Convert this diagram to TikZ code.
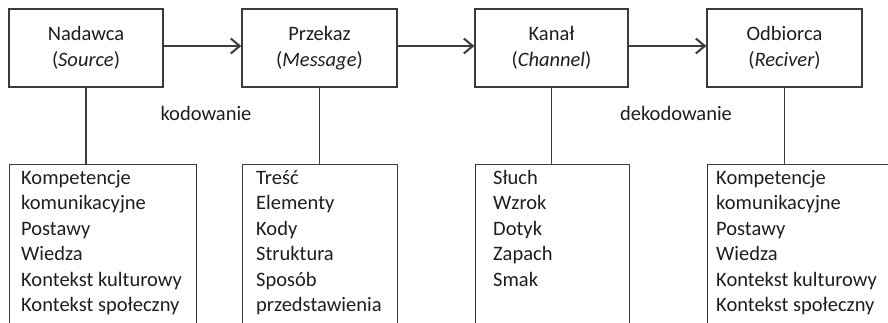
\documentclass[tikz,border=0pt]{standalone}
\usepackage{fontspec}
\setmainfont{Carlito}
\usetikzlibrary{arrows.meta,calc}
\definecolor{linegrey}{HTML}{3C3C3C}
\definecolor{inkgrey}{HTML}{1E1E1E}
\tikzset{
  stage/.style={draw=linegrey, line width=1.3pt, rectangle, minimum height=78pt,
    inner sep=0pt, align=center, text=inkgrey,
    font=\fontsize{20.5}{26}\selectfont},
  listbox/.style={draw=linegrey, line width=1.3pt, rectangle, minimum height=176pt,
    anchor=north west, inner sep=0pt},
  listtext/.style={anchor=north west, inner sep=0pt, align=left, text=inkgrey,
    font=\fontsize{20.5}{25.5}\selectfont},
  steplabel/.style={inner sep=0pt, text=inkgrey, font=\fontsize{20.5}{25}\selectfont},
  flow/.style={draw=linegrey, line width=1.3pt,
    -{Straight Barb[length=9pt,width=15pt,line width=2pt]}},
  link/.style={draw=linegrey, line width=1.3pt}
}
\begin{document}
\begin{tikzpicture}[x=1pt,y=1pt]
\useasboundingbox (0,0) rectangle (888,-322);
\clip (0,0) rectangle (888,-322);

% stages of the communication chain
\node[stage, minimum width=154pt] (src) at (86,-48) {Nadawca\\(\textit{Source})};
\node[stage, minimum width=155pt] (msg) at (319.5,-48) {Przekaz\\(\textit{Message})};
\node[stage, minimum width=153pt] (chn) at (551.5,-48) {Kanał\\(\textit{Channel})};
\node[stage, minimum width=155pt] (rcv) at (784.5,-48) {Odbiorca\\(\textit{Reciver})};

\draw[flow] ([yshift=2pt]src.east) -- ([yshift=2pt]msg.west);
\draw[flow] ([yshift=2pt]msg.east) -- ([yshift=2pt]chn.west);
\draw[flow] ([yshift=2pt]chn.east) -- ([yshift=2pt]rcv.west);

\node[steplabel] (enc) at (206,-113) {kodowanie};
\node[steplabel] (dec) at (676,-113) {dekodowanie};

% detail boxes (open at the bottom edge)
\node[listbox, minimum width=187pt] (srcL) at (9,-164) {};
\node[listbox, minimum width=155pt] (msgL) at (242,-164) {};
\node[listbox, minimum width=154pt] (chnL) at (475,-164) {};
\node[listbox, minimum width=200pt] (rcvL) at (707,-164) {};

\draw[link] (src.south) -- (src.south |- srcL.north);
\draw[link] (msg.south) -- (msg.south |- msgL.north);
\draw[link] (chn.south) -- (chn.south |- chnL.north);
\draw[link] (rcv.south) -- (rcv.south |- rcvL.north);

\node[listtext] (srcT) at (21,-166.15) {\strut Kompetencje\\komunikacyjne\\Postawy\\Wiedza\\Kontekst kulturowy\\Kontekst społeczny};
\node[listtext] (msgT) at (256,-166.15) {\strut Treść\\Elementy\\Kody\\Struktura\\Sposób\\przedstawienia};
\node[listtext] (chnT) at (493,-166.15) {\strut Słuch\\Wzrok\\Dotyk\\Zapach\\Smak};
\node[listtext] (rcvT) at (716,-166.15) {\strut Kompetencje\\komunikacyjne\\Postawy\\Wiedza\\Kontekst kulturowy\\Kontekst społeczny};
\end{tikzpicture}
\end{document}
